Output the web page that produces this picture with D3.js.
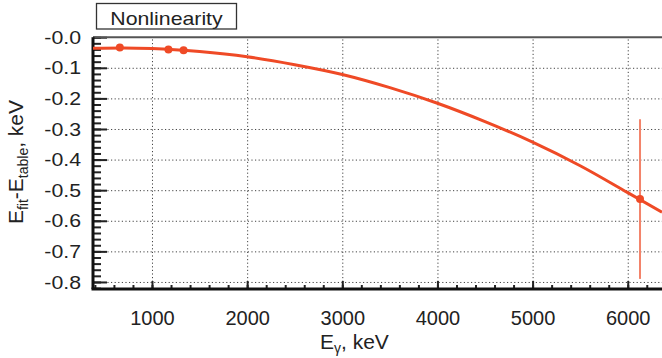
<!DOCTYPE html>
<html lang="en">
<head>
    <meta charset="UTF-8">
    <title>Nonlinearity</title>
    <script src="https://d3js.org/d3.v7.min.js"></script>
    <style>
        body {
            margin: 0;
            background: #fff;
            font-family: "Liberation Sans", Arial, sans-serif;
        }
        text {
            fill: #222;
        }
        .grid line {
            stroke: #444;
            stroke-width: 1;
            stroke-dasharray: 1.2 2.4;
        }
        .grid path {
            display: none;
        }
        .axis path {
            display: none;
        }
        .axis line {
            stroke: #222;
            stroke-width: 2;
        }
    </style>
</head>
<body>
    <svg id="chart"></svg>

    <script>
        // Fitted nonlinearity curve
        const fitEnergy = [380, 700, 1000, 1500, 2000, 2500, 3000, 3500, 4000, 4500, 5000, 5500, 6000, 6360];
        const fitDelta = [-0.036, -0.035, -0.037, -0.047, -0.064, -0.090, -0.122, -0.165, -0.216, -0.276, -0.343, -0.420, -0.508, -0.572];

        // Calibration lines (keV) and their residuals
        const peakEnergy = [662, 1173, 1332, 6129];
        const peakDelta = [-0.034, -0.040, -0.043, -0.529];
        const peakError = [0, 0, 0, 0.261];

        // Tick labels
        const xTicks = [1000, 2000, 3000, 4000, 5000, 6000];
        const xTickLabels = ["1000", "2000", "3000", "4000", "5000", "6000"];
        const yTicks = [0, -0.1, -0.2, -0.3, -0.4, -0.5, -0.6, -0.7, -0.8];
        const yTickLabels = ["-0.0", "-0.1", "-0.2", "-0.3", "-0.4", "-0.5", "-0.6", "-0.7", "-0.8"];

        const width = 662, height = 358;
        const plotLeft = 93, plotRight = 662, plotTop = 37.2, plotBottom = 289;
        const lineColor = "#ef4a26";

        const svg = d3.select("#chart")
            .attr("width", width)
            .attr("height", height);

        const x = d3.scaleLinear().domain([380, 6360]).range([plotLeft, plotRight]);
        const y = d3.scaleLinear().domain([-0.823, 0]).range([plotBottom, plotTop]);

        // stretch text a little wider, like the original render
        function stretch(sel, k) {
            sel.each(function () {
                const len = this.getComputedTextLength();
                d3.select(this).attr("textLength", len * k).attr("lengthAdjust", "spacingAndGlyphs");
            });
        }

        // grid
        svg.append("g")
            .attr("class", "grid")
            .attr("transform", `translate(0,${plotBottom})`)
            .call(d3.axisBottom(x).tickValues(xTicks).tickSize(-(plotBottom - plotTop)).tickFormat(""));

        svg.append("g")
            .attr("class", "grid")
            .attr("transform", `translate(${plotLeft},0)`)
            .call(d3.axisLeft(y).tickValues(yTicks.slice(1)).tickSize(-(plotRight - plotLeft)).tickFormat(""));

        // minor ticks
        svg.append("g")
            .attr("class", "axis")
            .attr("transform", `translate(0,${plotBottom})`)
            .call(d3.axisBottom(x).tickValues(d3.range(400, 6400, 200)).tickSize(-4).tickFormat(""));

        svg.append("g")
            .attr("class", "axis")
            .attr("transform", `translate(${plotLeft},0)`)
            .call(d3.axisLeft(y).tickValues(d3.range(0, -0.83, -0.02)).tickSize(-8).tickFormat(""));

        // major ticks and labels
        const xAxis = svg.append("g")
            .attr("class", "axis")
            .attr("transform", `translate(0,${plotBottom})`)
            .call(d3.axisBottom(x).tickValues(xTicks).tickSize(-8).tickPadding(22)
                .tickFormat((d, i) => xTickLabels[i]));
        xAxis.selectAll("text")
            .style("font-size", "20px")
            .style("font-family", "Liberation Sans, Arial, sans-serif")
            .attr("fill", "#222");

        const yAxis = svg.append("g")
            .attr("class", "axis")
            .attr("transform", `translate(${plotLeft},0)`)
            .call(d3.axisLeft(y).tickValues(yTicks).tickSize(-14).tickPadding(12)
                .tickFormat((d, i) => yTickLabels[i]));
        yAxis.selectAll("text")
            .style("font-size", "19px")
            .style("font-family", "Liberation Sans, Arial, sans-serif")
            .attr("fill", "#222")
            .call(stretch, 1.12);

        // frame lines
        svg.append("line")
            .attr("x1", plotLeft).attr("x2", plotRight)
            .attr("y1", plotTop).attr("y2", plotTop)
            .attr("stroke", "#555").attr("stroke-width", 2);
        svg.append("line")
            .attr("x1", plotLeft - 1.5).attr("x2", plotRight)
            .attr("y1", plotBottom).attr("y2", plotBottom)
            .attr("stroke", "#111").attr("stroke-width", 3);
        svg.append("line")
            .attr("x1", plotLeft).attr("x2", plotLeft)
            .attr("y1", plotTop).attr("y2", plotBottom)
            .attr("stroke", "#111").attr("stroke-width", 3);

        // clip region for data
        svg.append("clipPath").attr("id", "plot-clip")
            .append("rect")
            .attr("x", plotLeft).attr("y", plotTop)
            .attr("width", plotRight - plotLeft).attr("height", plotBottom - plotTop);

        const plot = svg.append("g").attr("clip-path", "url(#plot-clip)");

        // fitted curve
        const line = d3.line()
            .x(d => x(d[0]))
            .y(d => y(d[1]))
            .curve(d3.curveMonotoneX);

        plot.append("path")
            .datum(d3.zip(fitEnergy, fitDelta))
            .attr("fill", "none")
            .attr("stroke", lineColor)
            .attr("stroke-width", 3)
            .attr("d", line);

        // error bars
        const peaks = peakEnergy.map((e, i) => ({ e: e, v: peakDelta[i], err: peakError[i] }));

        plot.selectAll(".err")
            .data(peaks.filter(d => d.err > 0))
            .enter()
            .append("line")
            .attr("class", "err")
            .attr("x1", d => x(d.e)).attr("x2", d => x(d.e))
            .attr("y1", d => y(d.v + d.err)).attr("y2", d => y(d.v - d.err))
            .attr("stroke", "#f3836a")
            .attr("stroke-width", 2);

        plot.selectAll(".pt")
            .data(peaks)
            .enter()
            .append("circle")
            .attr("class", "pt")
            .attr("cx", d => x(d.e))
            .attr("cy", d => y(d.v))
            .attr("r", 4)
            .attr("fill", lineColor);

        // title box
        const title = svg.append("g");
        title.append("rect")
            .attr("x", 96.5).attr("y", 3.5)
            .attr("width", 140).attr("height", 25.5)
            .attr("fill", "#fff")
            .attr("stroke", "#333")
            .attr("stroke-width", 1.3);
        title.append("text")
            .attr("x", 166.5).attr("y", 25)
            .attr("text-anchor", "middle")
            .style("font-size", "19px")
            .text("Nonlinearity")
            .call(stretch, 1.12);

        // x-axis label
        const xLabel = svg.append("text")
            .attr("x", 320).attr("y", 349)
            .style("font-size", "21px");
        xLabel.append("tspan").text("E");
        xLabel.append("tspan").attr("dy", 4).style("font-size", "14px").text("γ");
        xLabel.append("tspan").attr("dy", -4).text(", keV");

        // y-axis label
        const yLabel = svg.append("text")
            .attr("transform", "translate(23,162) rotate(-90)")
            .attr("text-anchor", "middle")
            .style("font-size", "21px");
        yLabel.append("tspan").text("E");
        yLabel.append("tspan").attr("dy", 5).style("font-size", "14px").text("fit");
        yLabel.append("tspan").attr("dy", -5).text("-E");
        yLabel.append("tspan").attr("dy", 5).style("font-size", "14px").text("table");
        yLabel.append("tspan").attr("dy", -5).text(", keV");
    </script>
</body>
</html>
